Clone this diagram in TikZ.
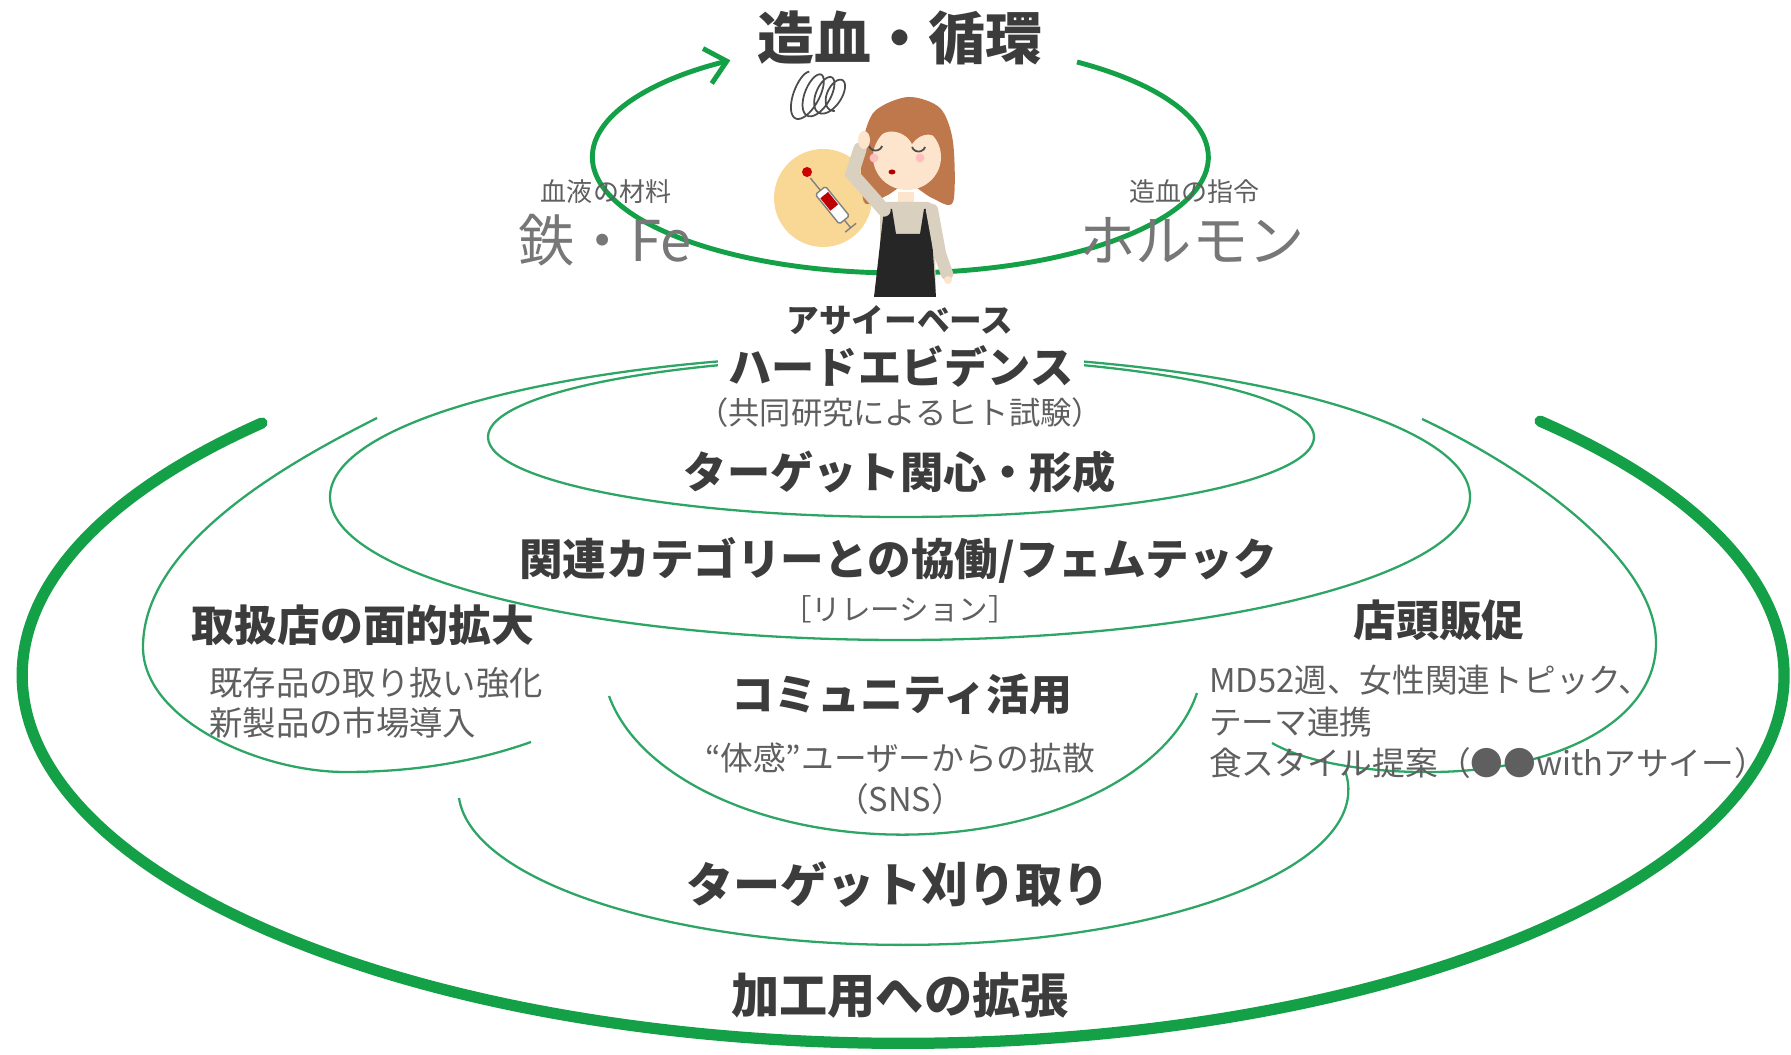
\documentclass[tikz,border=0pt]{standalone}
\usepackage{fontspec}
\setmainfont{Noto Sans CJK JP}
\usepackage{xcolor}
\usepackage{tikz}
\usetikzlibrary{arrows.meta}

\definecolor{leaf}{RGB}{20,160,70}
\definecolor{stem}{RGB}{45,165,100}
\definecolor{ink}{RGB}{60,60,60}
\definecolor{soft}{RGB}{95,95,95}
\definecolor{sand}{RGB}{249,216,150}
\definecolor{hair}{RGB}{190,120,75}
\definecolor{skin}{RGB}{253,228,205}
\definecolor{shirt}{RGB}{218,208,192}

\tikzset{
  thinloop/.style={draw=stem, line width=0.65pt},
  heading/.style={text=ink, font=\bfseries\fontsize{#1}{#1}\selectfont, inner sep=1pt},
  thintext/.style 2 args={text=soft, font=\fontsize{#1}{#2}\selectfont, inner sep=1pt},
}

\begin{document}
\begin{tikzpicture}
	\useasboundingbox (0,0) rectangle (17.91,10.54);
	\draw[leaf, line width=1.4pt, -{Straight Barb[length=2mm,width=3.6mm]}]
		(10.77,9.92) arc[start angle=55, end angle=-236.5, x radius=3.08, y radius=1.16];

	% lady with a headache
	\fill[sand] (8.23,8.56) circle (0.49);
	\begin{scope}[shift={(8.33,8.48)}, rotate=-51]
		\draw[gray, line width=0.4pt] (-0.20,0) -- (-0.36,0);
		\filldraw[fill=white, draw=gray, line width=0.4pt, rounded corners=0.5pt] (-0.20,-0.065) rectangle (0.18,0.065);
		\fill[red!75!black] (-0.14,-0.05) rectangle (0.02,0.05);
		\draw[gray, line width=0.4pt] (0.18,0) -- (0.28,0) (0.28,-0.07) -- (0.28,0.07);
	\end{scope}
	\fill[red!80!black] (8.07,8.82) circle (0.05);
	\draw[gray!60!black, line width=0.5pt] plot[smooth, samples=160, domain=90:1350, variable=\t]
		({7.98+0.42*\t/1350+0.11*cos(\t)+0.35*(0.25-0.10*\t/1350)*sin(\t)}, {9.58+(0.25-0.10*\t/1350)*sin(\t)});
	\fill[hair] plot[smooth cycle] coordinates {(8.64,8.52) (8.62,9.05) (8.74,9.42) (9.08,9.57) (9.40,9.46) (9.53,9.12) (9.53,8.52) (9.32,8.56) (9.08,8.70) (8.86,8.58)};
	\fill[skin] (8.98,8.62) rectangle (9.14,8.45);
	\fill[shirt, rounded corners=2pt] (8.80,8.52) -- (9.34,8.52) -- (9.36,7.58) -- (8.80,7.58) -- cycle;
	\fill[black!85] (8.84,8.45) -- (8.92,8.45) -- (8.96,8.20) -- (9.20,8.20) -- (9.24,8.45) -- (9.30,8.45) -- (9.36,7.57) -- (8.74,7.57) -- cycle;
	\draw[shirt, line width=3.5pt, line cap=round] (9.32,8.44) -- (9.40,8.00) -- (9.47,7.80);
	\fill[skin] (9.48,7.74) circle (0.04);
	\fill[skin] (9.07,8.97) ellipse (0.34 and 0.33);
	\fill[hair] (8.72,9.05) .. controls (8.78,9.30) and (9.05,9.25) .. (9.12,9.10) .. controls (9.20,9.22) and (9.38,9.25) .. (9.44,9.05) -- (9.44,9.40) -- (8.72,9.40) -- cycle;
	\draw[black!70, line width=0.5pt] (8.69,9.08) arc[start angle=200, end angle=340, radius=0.07];
	\draw[black!70, line width=0.5pt] (9.12,9.07) arc[start angle=200, end angle=340, radius=0.07];
	\fill[pink] (8.74,8.96) circle (0.045);
	\fill[pink] (9.20,8.96) circle (0.045);
	\fill[red!70!black] (8.92,8.82) ellipse (0.035 and 0.025);
	\draw[shirt, line width=3.8pt, line cap=round] (8.84,8.44) -- (8.52,8.80) -- (8.60,9.05);
	\fill[skin] (8.64,9.14) ellipse (0.06 and 0.09);

	\draw[leaf, line width=3.2pt, line cap=round]
		(2.62,6.31) arc[start angle=136.7, end angle=403.7, x radius=8.81, y radius=3.68];
	\draw[thinloop] (9.01,6.17) ellipse [x radius=4.13, y radius=0.80];
	\draw[thinloop] (9.00,5.57) ellipse [x radius=5.70, y radius=1.43];
	\draw[thinloop] (3.77,6.36) .. controls (3.00,5.97) and (1.43,5.14) .. (1.43,4.07)
		.. controls (1.43,3.34) and (2.60,2.82) .. (3.45,2.82)
		.. controls (4.20,2.82) and (4.80,2.94) .. (5.31,3.12);
	\draw[thinloop] (14.22,6.35) .. controls (15.30,5.84) and (16.56,4.94) .. (16.56,4.11)
		.. controls (16.56,3.34) and (15.60,2.84) .. (14.36,2.82)
		.. controls (13.80,2.81) and (13.10,2.89) .. (12.72,3.11);
	\draw[thinloop] (6.09,3.58) arc[start angle=192, end angle=349, x radius=3.00, y radius=1.75];
	\draw[thinloop] (4.59,2.56) arc[start angle=183, end angle=367, x radius=4.45, y radius=1.55];

	\node[heading=16.2] (cycle) at (9.00,10.16) {造血・循環};
	\node[thintext={7.4}{9}] (ironnote) at (6.06,8.62) {血液の材料};
	\node[thintext={16}{18}, text=soft!85] (iron) at (6.05,8.14) {鉄・Fe};
	\node[thintext={7.4}{9}] (hormonenote) at (11.94,8.62) {造血の指令};
	\node[thintext={16}{18}, text=soft!85] (hormone) at (11.92,8.14) {ホルモン};
	\node[heading=9.3] (base) at (9.00,7.34) {アサイーベース};
	\node[heading=12.3, fill=white, inner xsep=3pt] (evidence) at (9.01,6.88) {ハードエビデンス};
	\node[thintext={8.9}{11}] (trial) at (9.00,6.41) {（共同研究によるヒト試験）};
	\node[heading=12.3] (interest) at (9.00,5.82) {ターゲット関心・形成};
	\node[heading=12.4] (femtech) at (8.98,4.94) {関連カテゴリーとの協働/フェムテック};
	\node[thintext={8.4}{10}] (relation) at (9.00,4.45) {［リレーション］};
	\node[heading=12.2] (stores) at (3.63,4.29) {取扱店の面的拡大};
	\node[thintext={9.5}{11.4}, align=left, anchor=west] (storesnote) at (2.05,3.51) {既存品の取り扱い強化\\新製品の市場導入};
	\node[heading=12.2] (promo) at (14.39,4.34) {店頭販促};
	\node[thintext={9.3}{11.8}, align=left, anchor=west] (promonote) at (12.05,3.32) {MD52週、女性関連トピック、\\テーマ連携\\食スタイル提案（●●withアサイー）};
	\node[heading=12.2] (community) at (9.02,3.60) {コミュニティ活用};
	\node[thintext={9.3}{11.8}, align=center] (communitynote) at (9.00,2.75) {“体感”ユーザーからの拡散\\（SNS）};
	\node[heading=13.4] (harvest) at (8.98,1.69) {ターゲット刈り取り};
	\node[heading=13.7] (processing) at (9.00,0.59) {加工用への拡張};
\end{tikzpicture}
\end{document}
